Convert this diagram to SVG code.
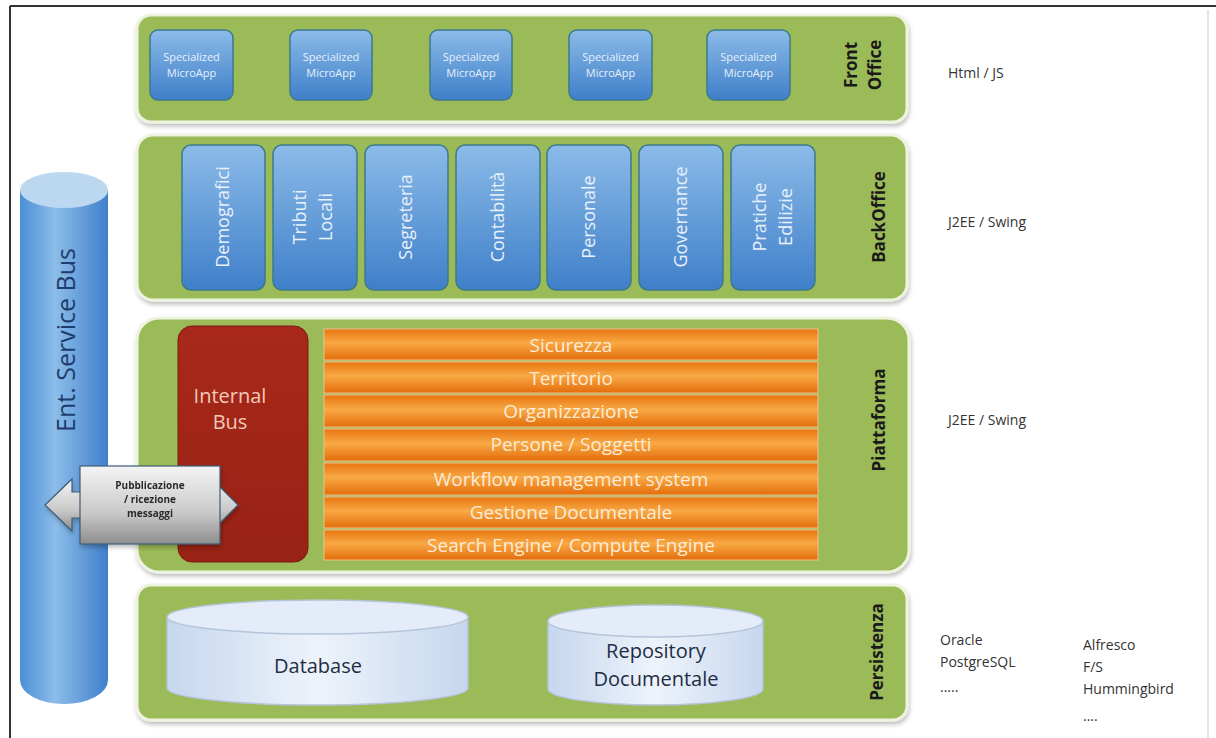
<svg xmlns="http://www.w3.org/2000/svg" width="1216" height="738" viewBox="0 0 1216 738">
<defs>
<linearGradient id="gBlue" x1="0" y1="0" x2="0" y2="1"><stop offset="0" stop-color="#8bbbe8"/><stop offset="1" stop-color="#3f7fc9"/></linearGradient>
<linearGradient id="gOrange" x1="0" y1="0" x2="0" y2="1"><stop offset="0" stop-color="#e8740f"/><stop offset="0.45" stop-color="#f8a945"/><stop offset="1" stop-color="#e46c0a"/></linearGradient>
<linearGradient id="gBus" x1="0" y1="0" x2="1" y2="0"><stop offset="0" stop-color="#4a8ed6"/><stop offset="0.4" stop-color="#8cbdea"/><stop offset="1" stop-color="#3f7fcb"/></linearGradient>
<linearGradient id="gCyl" x1="0" y1="0" x2="1" y2="0"><stop offset="0" stop-color="#c5d7ee"/><stop offset="0.5" stop-color="#eef3fb"/><stop offset="1" stop-color="#c5d7ee"/></linearGradient>
<linearGradient id="gArrow" x1="0" y1="0" x2="0" y2="1"><stop offset="0" stop-color="#f4f4f4"/><stop offset="0.6" stop-color="#c9c9c9"/><stop offset="1" stop-color="#8d8d8d"/></linearGradient>
<linearGradient id="gRed" x1="0" y1="0" x2="0" y2="1"><stop offset="0" stop-color="#a8291b"/><stop offset="1" stop-color="#982214"/></linearGradient>
<filter id="sh" x="-5%" y="-5%" width="110%" height="115%"><feDropShadow dx="1" dy="3" stdDeviation="2" flood-color="#000" flood-opacity="0.25"/></filter>
</defs>
<style>
.panel{fill:#9bbb59;stroke:#eef3df;stroke-width:3;filter:url(#sh)}
.blue{fill:url(#gBlue);stroke:#3d7a8a;stroke-width:1.5}
.bar{fill:url(#gOrange);stroke:#f3c08a;stroke-width:1}
.t{font-family:"Open Sans","Liberation Sans",sans-serif}
.micro{font-size:11px;fill:#e6f0fb;text-anchor:middle}
.bo{font-size:18px;fill:#e8f1fb;text-anchor:middle}
.bar-t{font-size:19px;fill:#fdebd6;text-anchor:middle}
.lbl{font-size:17px;font-weight:bold;fill:#1a1a1a;text-anchor:middle}
.side{font-size:14px;fill:#333}
.cyl-t{font-size:20px;fill:#1f2d45;text-anchor:middle}
.head{fill:url(#gArrow);stroke:#3e5c76;stroke-width:1.2}
</style>
<rect width="1216" height="738" fill="#ffffff"/>
<line x1="10" y1="6" x2="1216" y2="6" stroke="#333" stroke-width="2"/>
<line x1="10" y1="6" x2="10" y2="738" stroke="#333" stroke-width="2"/>
<line x1="1208" y1="10" x2="1208" y2="738" stroke="#dddddd" stroke-width="1.5"/>

<g id="front-office">
<rect class="panel" x="137" y="15" width="770" height="107" rx="14"/>
<g class="t">
<rect class="blue" x="150" y="30" width="83" height="70" rx="8"/>
<text class="micro" x="191.5" y="61">Specialized<tspan x="191.5" dy="16">MicroApp</tspan></text>
<rect class="blue" x="290" y="30" width="82" height="70" rx="8"/>
<text class="micro" x="331" y="61">Specialized<tspan x="331" dy="16">MicroApp</tspan></text>
<rect class="blue" x="430" y="30" width="82" height="70" rx="8"/>
<text class="micro" x="471" y="61">Specialized<tspan x="471" dy="16">MicroApp</tspan></text>
<rect class="blue" x="569" y="30" width="83" height="70" rx="8"/>
<text class="micro" x="610.5" y="61">Specialized<tspan x="610.5" dy="16">MicroApp</tspan></text>
<rect class="blue" x="707" y="30" width="83" height="70" rx="8"/>
<text class="micro" x="748.5" y="61">Specialized<tspan x="748.5" dy="16">MicroApp</tspan></text>
<text class="lbl" transform="translate(857,65) rotate(-90)">Front<tspan x="0" dy="24">Office</tspan></text>
</g>
</g>

<g id="back-office">
<rect class="panel" x="137" y="135" width="770" height="165" rx="16"/>
<g class="t">
<rect class="blue" x="182" y="145" width="83" height="145" rx="9"/>
<text class="bo" transform="translate(229,217) rotate(-90)">Demografici</text>
<rect class="blue" x="273" y="145" width="84" height="145" rx="9"/>
<text class="bo" transform="translate(306,217) rotate(-90)">Tributi<tspan x="0" dy="26">Locali</tspan></text>
<rect class="blue" x="365" y="145" width="83" height="145" rx="9"/>
<text class="bo" transform="translate(412,217) rotate(-90)">Segreteria</text>
<rect class="blue" x="456" y="145" width="84" height="145" rx="9"/>
<text class="bo" transform="translate(504,217) rotate(-90)">Contabilità</text>
<rect class="blue" x="547" y="145" width="84" height="145" rx="9"/>
<text class="bo" transform="translate(595,217) rotate(-90)">Personale</text>
<rect class="blue" x="639" y="145" width="84" height="145" rx="9"/>
<text class="bo" transform="translate(687,217) rotate(-90)">Governance</text>
<rect class="blue" x="731" y="145" width="84" height="145" rx="9"/>
<text class="bo" transform="translate(766,217) rotate(-90)">Pratiche<tspan x="0" dy="26">Edilizie</tspan></text>
<text class="lbl" transform="translate(885,217) rotate(-90)">BackOffice</text>
</g>
</g>

<g id="piattaforma">
<rect class="panel" x="137" y="318" width="772" height="254" rx="22"/>
<rect x="178" y="326" width="130" height="236" rx="14" fill="url(#gRed)" stroke="#7d1a10" stroke-width="1"/>
<text class="t" x="230" y="403" font-size="20" fill="#f4c9b8" text-anchor="middle">Internal<tspan x="230" dy="26">Bus</tspan></text>
<g class="t">
<rect class="bar" x="324" y="329" width="494" height="31"/>
<text class="bar-t" x="571" y="352">Sicurezza</text>
<rect class="bar" x="324" y="362" width="494" height="31"/>
<text class="bar-t" x="571" y="385">Territorio</text>
<rect class="bar" x="324" y="395" width="494" height="32"/>
<text class="bar-t" x="571" y="418">Organizzazione</text>
<rect class="bar" x="324" y="429" width="494" height="32"/>
<text class="bar-t" x="571" y="451">Persone / Soggetti</text>
<rect class="bar" x="324" y="463" width="494" height="32"/>
<text class="bar-t" x="571" y="486">Workflow management system</text>
<rect class="bar" x="324" y="497" width="494" height="31"/>
<text class="bar-t" x="571" y="519">Gestione Documentale</text>
<rect class="bar" x="324" y="530" width="494" height="30"/>
<text class="bar-t" x="571" y="552">Search Engine / Compute Engine</text>
<text class="lbl" transform="translate(885,420) rotate(-90)">Piattaforma</text>
</g>
</g>

<g id="persistenza">
<rect class="panel" x="137" y="585" width="770" height="135" rx="14"/>
<g id="database">
<path d="M167,617 L167,688 A150,17 0 0 0 468,688 L468,617 Z" fill="url(#gCyl)" stroke="#b5c4d8" stroke-width="1.5"/>
<ellipse cx="317.5" cy="617" rx="150.5" ry="17" fill="#e3ecf8" stroke="#b5c4d8" stroke-width="1.5"/>
<text class="t cyl-t" x="318" y="673">Database</text>
</g>
<g id="repository">
<path d="M548,621 L548,689 A107.5,16 0 0 0 763,689 L763,621 Z" fill="url(#gCyl)" stroke="#b5c4d8" stroke-width="1.5"/>
<ellipse cx="655.5" cy="621" rx="107.5" ry="16" fill="#e3ecf8" stroke="#b5c4d8" stroke-width="1.5"/>
<text class="t cyl-t" x="656" y="658">Repository<tspan x="656" dy="28">Documentale</tspan></text>
</g>
<text class="t lbl" font-size="16" transform="translate(883,652) rotate(-90)">Persistenza</text>
</g>

<g id="ent-service-bus">
<path d="M20,190 L20,680 A44,24 0 0 0 108,680 L108,190 Z" fill="url(#gBus)"/>
<ellipse cx="64" cy="190" rx="44" ry="18" fill="#bcd8f1"/>
<text class="t" transform="translate(75,340) rotate(-90)" font-size="25" fill="#1f3d6b" text-anchor="middle">Ent. Service Bus</text>
</g>

<g id="connectors">
<g id="pubblicazione" filter="url(#sh)">
<path class="head" d="M45,505 L72,479 L72,492 L212,492 L212,479 L238,505 L212,531 L212,518 L72,518 L72,531 Z"/>
<rect x="80" y="466" width="140" height="78" fill="url(#gArrow)" stroke="#3e5c76" stroke-width="1.2"/>
<text class="t" x="150" y="489" font-size="10" font-weight="bold" fill="#2a2a2a" text-anchor="middle">Pubblicazione<tspan x="150" dy="14">/ ricezione</tspan><tspan x="150" dy="14">messaggi</tspan></text>
</g>
</g>

<g id="side-labels" class="t">
<text class="side" x="948" y="78">Html / JS</text>
<text class="side" x="948" y="227">J2EE / Swing</text>
<text class="side" x="948" y="425">J2EE / Swing</text>
<text class="side" x="940" y="645">Oracle</text>
<text class="side" x="940" y="667">PostgreSQL</text>
<text class="side" x="940" y="692">.....</text>
<text class="side" x="1083" y="650">Alfresco</text>
<text class="side" x="1083" y="672">F/S</text>
<text class="side" x="1083" y="694">Hummingbird</text>
<text class="side" x="1083" y="721">....</text>
</g>
</svg>
